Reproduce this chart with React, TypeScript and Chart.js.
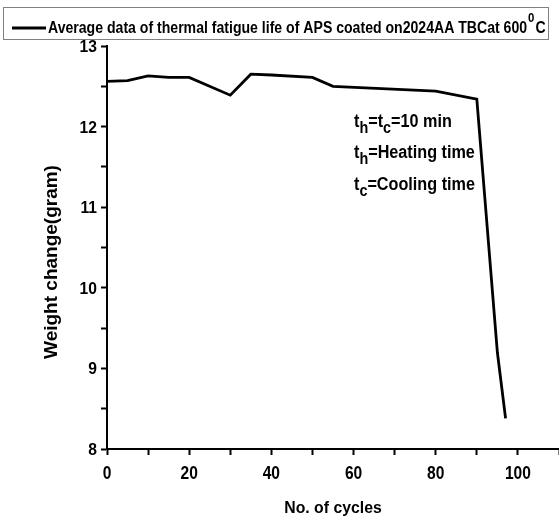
import React, { useEffect, useRef } from "react";
import { Chart, registerables } from "chart.js";

Chart.register(...registerables);

const cycles = [0, 5, 10, 15, 20, 30, 35, 40, 50, 55, 80, 90, 95, 97];
const weights = [12.56, 12.57, 12.63, 12.61, 12.61, 12.39, 12.65, 12.64, 12.61, 12.5, 12.44, 12.34, 9.2, 8.38];
const xTickLabels = [0, 20, 40, 60, 80, 100];
const yTickLabels = [8, 9, 10, 11, 12, 13];

const seriesLabel = "Average data of thermal fatigue life of APS coated on2024AA TBCat 600";
const seriesSup = "0";
const seriesTail = "C";
const xTitle = "No. of cycles";
const yTitle = "Weight change(gram)";
const noteLines = [
  [["t", "h"], ["=t", "c"], ["=10 min", ""]],
  [["t", "h"], ["=Heating time", ""]],
  [["t", "c"], ["=Cooling time", ""]],
];

const FAM = '"Liberation Sans", Arial, sans-serif';

function squeezed(ctx: CanvasRenderingContext2D, text: string, x: number, y: number, sx: number) {
  ctx.save();
  ctx.translate(x, y);
  ctx.scale(sx, 1);
  ctx.fillText(text, 0, 0);
  ctx.restore();
}

const overlay = {
  id: "overlay",
  afterDraw(chart: any) {
    const ctx = chart.ctx as CanvasRenderingContext2D;
    const xs = chart.scales.x;
    const ys = chart.scales.y;
    ctx.save();
    ctx.fillStyle = "#000";
    ctx.textBaseline = "alphabetic";

    // tick labels
    ctx.textAlign = "center";
    ctx.font = `bold 19px ${FAM}`;
    xTickLabels.forEach((v) => squeezed(ctx, String(v), xs.getPixelForValue(v), 479, 0.82));
    ctx.textAlign = "right";
    ctx.font = `bold 17px ${FAM}`;
    yTickLabels.forEach((v) => squeezed(ctx, String(v), 97, ys.getPixelForValue(v) + 6, 0.92));

    // legend box
    ctx.strokeStyle = "#808080";
    ctx.lineWidth = 1;
    ctx.strokeRect(3.5, 7.5, 545, 32);
    ctx.strokeStyle = "#000";
    ctx.lineWidth = 3;
    ctx.beginPath();
    ctx.moveTo(12, 28);
    ctx.lineTo(46, 28);
    ctx.stroke();
    ctx.textAlign = "left";
    const sx = 0.88;
    ctx.font = `bold 16px ${FAM}`;
    let x = 48;
    squeezed(ctx, seriesLabel, x, 33, sx);
    x += ctx.measureText(seriesLabel).width * sx + 1;
    ctx.font = `bold 13px ${FAM}`;
    squeezed(ctx, seriesSup, x, 22, sx);
    x += ctx.measureText(seriesSup).width * sx + 1;
    ctx.font = `bold 16px ${FAM}`;
    squeezed(ctx, seriesTail, x, 33, sx);

    // notes
    const baselines = [127, 158, 190];
    const nsx = 0.9;
    noteLines.forEach((line, i) => {
      let nx = 354;
      const by = baselines[i];
      line.forEach(([main, sub]) => {
        ctx.font = `bold 18px ${FAM}`;
        squeezed(ctx, main, nx, by, nsx);
        nx += ctx.measureText(main).width * nsx;
        if (sub) {
          ctx.font = `bold 16px ${FAM}`;
          squeezed(ctx, sub, nx, by + 6, nsx);
          nx += ctx.measureText(sub).width * nsx;
        }
      });
    });

    // axis titles
    ctx.textAlign = "center";
    ctx.font = `bold 17px ${FAM}`;
    squeezed(ctx, xTitle, 333, 513, 0.93);
    ctx.font = `bold 19px ${FAM}`;
    ctx.translate(57, 262);
    ctx.rotate(-Math.PI / 2);
    ctx.fillText(yTitle, 0, 0);
    ctx.restore();
  },
};

export default function App() {
  const ref = useRef<HTMLCanvasElement>(null);
  useEffect(() => {
    if (!ref.current) return;
    const chart = new Chart(ref.current, {
      type: "line",
      data: {
        datasets: [
          {
            label: seriesLabel + seriesSup + seriesTail,
            data: cycles.map((c, i) => ({ x: c, y: weights[i] })),
            borderColor: "#000",
            backgroundColor: "#000",
            borderWidth: 2.8,
            pointRadius: 0,
            tension: 0,
            fill: false,
          },
        ],
      },
      options: {
        responsive: false,
        animation: false,
        layout: { padding: { top: 46, left: 0, right: 0, bottom: 0 } },
        plugins: { legend: { display: false }, tooltip: { enabled: false } },
        scales: {
          x: {
            type: "linear",
            min: 0,
            max: 110,
            afterFit: (s: any) => {
              s.height = 71;
            },
            ticks: { stepSize: 10, display: false, autoSkip: false },
            grid: { drawOnChartArea: false, drawTicks: true, tickLength: 6, tickWidth: 2, tickColor: "#000" },
            border: { display: true, color: "#000", width: 2 },
          },
          y: {
            type: "linear",
            min: 8,
            max: 13,
            afterFit: (s: any) => {
              s.width = 107;
            },
            ticks: { stepSize: 0.5, display: false, autoSkip: false },
            grid: { drawOnChartArea: false, drawTicks: true, tickLength: 6, tickWidth: 2, tickColor: "#000" },
            border: { display: true, color: "#000", width: 2 },
          },
        },
      },
      plugins: [overlay],
    } as any);
    return () => chart.destroy();
  }, []);
  return (
    <div style={{ position: "fixed", left: 0, top: 0, width: 559, height: 520, background: "#fff" }}>
      <canvas ref={ref} width={559} height={520} style={{ display: "block" }} />
    </div>
  );
}
